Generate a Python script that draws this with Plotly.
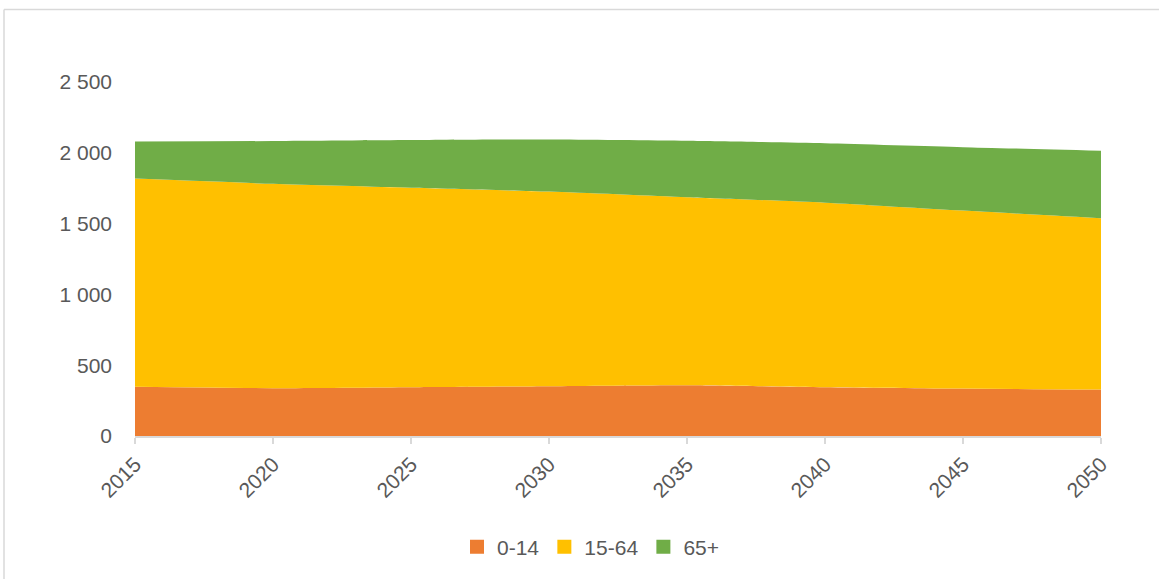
import plotly.graph_objects as go

# Population by age group (thousands), projection 2015-2050
years = [2015, 2020, 2025, 2030, 2035, 2040, 2045, 2050]
age_0_14 = [347, 338, 345, 352, 359, 345, 335, 328]
age_15_64 = [1471, 1443, 1408, 1374, 1327, 1303, 1257, 1210]
age_65_plus = [262, 302, 337, 368, 399, 420, 448, 476]

series = [
    ("0-14", age_0_14, "#ED7D31"),
    ("15-64", age_15_64, "#FFC000"),
    ("65+", age_65_plus, "#70AD47"),
]

fig = go.Figure()
for name, vals, color in series:
    fig.add_trace(go.Scatter(
        x=years, y=vals, name=name, mode="lines", showlegend=False,
        stackgroup="pop", line=dict(width=0, color=color, shape="spline", smoothing=0.6),
        fillcolor=color,
    ))
# square legend keys
for name, vals, color in series:
    fig.add_trace(go.Scatter(
        x=[None], y=[None], name=name, mode="markers",
        marker=dict(symbol="square", size=14, color=color),
    ))

W, H = 1159, 579
L, R, T, B = 135, 58, 82, 143
pw, ph = W - L - R, H - T - B

def px_x(p):
    return (p - L) / pw

def px_y(p):
    return (H - B - p) / ph

font = "Liberation Sans, Arial, sans-serif"
fs = 21
fig.update_layout(
    width=W, height=H,
    margin=dict(l=L, r=R, t=T, b=B),
    paper_bgcolor="white", plot_bgcolor="white",
    font=dict(family=font, color="#595959", size=fs),
    showlegend=True,
    legend=dict(
        orientation="h", x=px_x(591), y=px_y(547), xanchor="center", yanchor="middle",
        font=dict(size=fs, color="#595959"), traceorder="normal",
        itemwidth=30, tracegroupgap=0,
    ),
    xaxis=dict(
        range=[2015, 2050], tickvals=years, ticktext=[str(y) for y in years],
        tickangle=-45, showgrid=False, zeroline=False,
        showline=True, linecolor="#d9d9d9", linewidth=1.5,
        ticks="outside", ticklen=6, tickcolor="#d9d9d9", tickwidth=1.5,
        tickfont=dict(size=fs, color="#595959"),
    ),
    yaxis=dict(
        range=[0, 2500], tickvals=[0, 500, 1000, 1500, 2000, 2500],
        ticktext=["0", "500", "1 000", "1 500", "2 000", "2 500"],
        showgrid=True, gridcolor="#d9d9d9", gridwidth=1.5, zeroline=False,
        showline=False, ticks="", ticklabelstandoff=22,
        tickfont=dict(size=fs, color="#595959"),
    ),
    shapes=[
        # chart-area frame (left and top edges)
        dict(type="line", xref="paper", yref="paper",
             x0=px_x(4), x1=px_x(1165), y0=px_y(9.5), y1=px_y(9.5),
             line=dict(color="#d9d9d9", width=1.5)),
        dict(type="line", xref="paper", yref="paper",
             x0=px_x(4), x1=px_x(4), y0=px_y(9.5), y1=px_y(585),
             line=dict(color="#d9d9d9", width=1.5)),
    ],
)

fig.write_html("out.html")
